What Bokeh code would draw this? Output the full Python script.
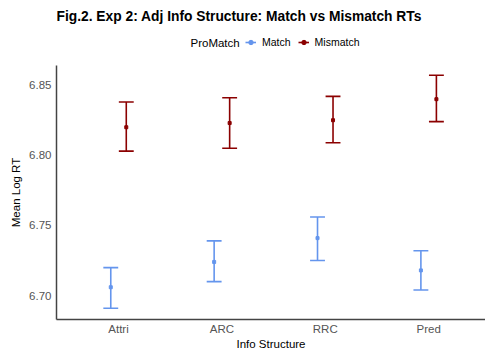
import numpy as np
from bokeh.plotting import figure
from bokeh.layouts import column
from bokeh.models import (Range1d, FixedTicker, Legend, LegendItem, ColumnDataSource, Label,
                          PrintfTickFormatter)
from bokeh.embed import file_html
from bokeh.resources import INLINE

categories = ["Attri", "ARC", "RRC", "Pred"]
match_mean = [6.706, 6.724, 6.741, 6.718]
match_lower = [6.691, 6.710, 6.725, 6.704]
match_upper = [6.720, 6.739, 6.756, 6.732]
mismatch_mean = [6.820, 6.823, 6.825, 6.840]
mismatch_lower = [6.803, 6.805, 6.809, 6.824]
mismatch_upper = [6.838, 6.841, 6.842, 6.857]
y_ticks = [6.70, 6.75, 6.80, 6.85]
series_names = ["Match", "Mismatch"]
legend_title = "ProMatch"
title_text = "Fig.2. Exp 2: Adj Info Structure: Match vs Mismatch RTs"

FONT = "Liberation Sans"
C_MATCH = "#6495ED"
C_MIS = "#8B0000"
W = 485
HTOT = 352
HH = 56

# ---------- header: title + legend ----------
h = figure(width=W, height=HH, output_backend="svg", toolbar_location=None,
           x_range=Range1d(0, 1), y_range=Range1d(0, 1),
           x_axis_location=None, y_axis_location=None,
           min_border_left=0, min_border_right=0, min_border_top=0, min_border_bottom=0)
h.outline_line_color = None
h.grid.grid_line_color = None
h.add_layout(Label(x=0, y=HH - 8, x_units="screen", y_units="screen", text=title_text,
                   text_font=FONT, text_font_size="13.8px", text_font_style="bold",
                   text_color="black", text_baseline="top"))
h.add_layout(Label(x=134, y=14, x_units="screen", y_units="screen", text=legend_title,
                   text_font=FONT, text_font_size="11.5px", text_color="black",
                   text_baseline="middle"))
items = []
for name, col in zip(series_names, [C_MATCH, C_MIS]):
    r1 = h.segment(x0=[-5], y0=[-5], x1=[-4], y1=[-4], line_color=col, line_width=1.6)
    r2 = h.scatter(x=[-5], y=[-5], marker="circle", size=3, color=col)
    items.append(LegendItem(label=name, renderers=[r1, r2]))
leg = Legend(items=items, orientation="horizontal", location=(189, 8))
leg.label_text_font = FONT
leg.label_text_font_size = "10.5px"
leg.label_text_color = "black"
leg.glyph_width = 11
leg.glyph_height = 12
leg.label_height = 12
leg.label_standoff = 6
leg.spacing = 7
leg.padding = 0
leg.margin = 0
leg.border_line_color = None
leg.background_fill_alpha = 0
h.add_layout(leg)

# ---------- main plot ----------
p = figure(width=W, height=HTOT - HH, output_backend="svg", toolbar_location=None,
           x_range=Range1d(0.4, 4.55), y_range=Range1d(6.683, 6.864),
           min_border_left=56, min_border_right=0, min_border_top=9, min_border_bottom=0)
p.background_fill_color = "white"
p.border_fill_color = "white"
p.outline_line_color = None
p.grid.grid_line_color = None

idx = np.arange(1, len(categories) + 1)
dodge = 0.075
cap = 0.072

def add_series(means, lows, ups, shift, color):
    x = idx + shift
    src = ColumnDataSource(dict(x=x, m=means, lo=lows, up=ups, x0=x - cap, x1=x + cap))
    p.segment(x0="x", y0="lo", x1="x", y1="up", source=src, line_color=color, line_width=1.6)
    p.segment(x0="x0", y0="lo", x1="x1", y1="lo", source=src, line_color=color, line_width=1.6)
    p.segment(x0="x0", y0="up", x1="x1", y1="up", source=src, line_color=color, line_width=1.6)
    p.scatter(x="x", y="m", source=src, marker="square", size=3, color=color)

add_series(match_mean, match_lower, match_upper, -dodge, C_MATCH)
add_series(mismatch_mean, mismatch_lower, mismatch_upper, dodge, C_MIS)

for ax in (p.xaxis[0], p.yaxis[0]):
    ax.axis_line_color = "#444444"
    ax.axis_line_width = 1.5
    ax.major_tick_line_color = None
    ax.minor_tick_line_color = None
    ax.major_tick_out = 0
    ax.major_tick_in = 0
    ax.minor_tick_out = 0
    ax.minor_tick_in = 0
    ax.major_label_text_font = FONT
    ax.major_label_text_font_size = "11.5px"
    ax.major_label_text_color = "#555555"
    ax.axis_label_text_font = FONT
    ax.axis_label_text_font_size = "11.5px"
    ax.axis_label_text_font_style = "normal"
    ax.axis_label_text_color = "black"

p.xaxis.ticker = FixedTicker(ticks=list(idx))
p.xaxis.major_label_overrides = {int(i): c for i, c in zip(idx, categories)}
p.xaxis.axis_label = "Info Structure"
p.xaxis.major_label_standoff = 3
p.xaxis.axis_label_standoff = 0
p.yaxis.ticker = FixedTicker(ticks=y_ticks)
p.yaxis.formatter = PrintfTickFormatter(format="%.2f")
p.yaxis.axis_label = "Mean Log RT"
p.yaxis.major_label_standoff = 5
p.yaxis.axis_label_standoff = 4

layout = column(h, p, spacing=0)
open("out.html", "w").write(file_html(layout, INLINE))
